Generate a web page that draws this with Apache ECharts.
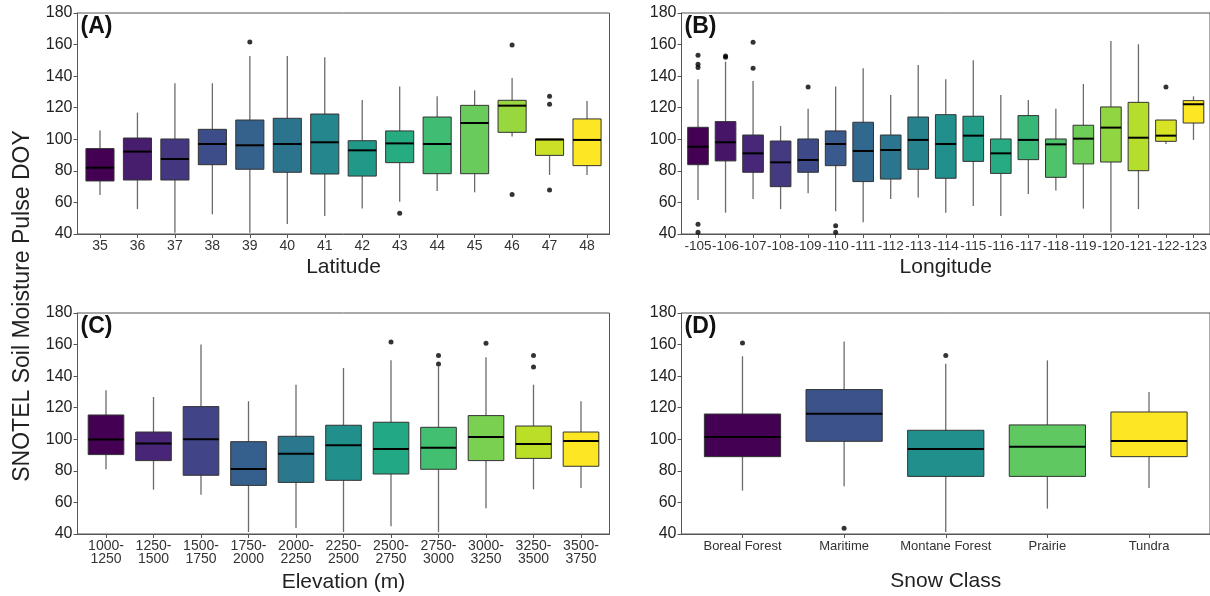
<!doctype html>
<html>
<head>
<meta charset="utf-8">
<script src="https://cdn.jsdelivr.net/npm/echarts@6/dist/echarts.min.js"></script>
<style>
  html, body { margin: 0; padding: 0; background: #fff; }
  #main { width: 1210px; height: 596px; }
</style>
</head>
<body>
<div id="main"></div>
<script>
// box values per category: [lower whisker, q1, median, q3, upper whisker]
var latCats = ['35','36','37','38','39','40','41','42','43','44','45','46','47','48'];
var latBox = [
  [64.7, 73.6, 82.0, 94.1, 105.5],
  [55.8, 74.2, 92.2, 100.8, 116.9],
  [40.8, 74.2, 87.5, 100.2, 135.5],
  [52.5, 83.9, 97.0, 106.3, 135.5],
  [40.8, 81.0, 96.2, 112.2, 152.8],
  [46.3, 79.1, 97.0, 113.3, 152.8],
  [51.4, 78.0, 98.1, 116.0, 151.9],
  [56.1, 76.7, 93.0, 99.1, 124.9],
  [60.5, 85.2, 97.4, 105.3, 133.4],
  [67.2, 78.2, 97.0, 114.1, 127.2],
  [66.4, 78.2, 110.3, 121.5, 131.0],
  [101.7, 104.4, 121.3, 124.7, 138.8],
  [77.4, 89.8, 99.8, 100.2, 100.2],
  [77.4, 83.3, 99.6, 112.9, 124.3]
];
var latOut = [[4,161.7],[8,53.1],[11,159.8],[11,65.1],[12,127.2],[12,122.2],[12,67.9]];

var lonCats = ['-105','-106','-107','-108','-109','-110','-111','-112','-113','-114',
               '-115','-116','-117','-118','-119','-120','-121','-122','-123'];
var lonBox = [
  [61.5, 83.9, 95.3, 107.6, 138.0],
  [53.5, 86.3, 98.1, 111.2, 149.2],
  [62.2, 79.1, 91.1, 102.7, 136.9],
  [55.8, 70.0, 85.4, 98.9, 108.4],
  [65.8, 79.1, 86.9, 100.2, 119.4],
  [54.4, 83.3, 97.0, 105.3, 133.4],
  [47.4, 73.2, 92.6, 110.8, 145.0],
  [62.2, 74.8, 93.2, 102.7, 128.1],
  [63.2, 81.0, 99.6, 114.1, 147.1],
  [53.5, 75.3, 97.0, 115.6, 138.0],
  [57.7, 86.0, 102.3, 114.6, 150.0],
  [51.4, 78.4, 91.1, 100.2, 128.1],
  [65.3, 87.1, 99.6, 115.0, 124.9],
  [67.5, 75.9, 96.8, 100.2, 119.4],
  [56.1, 84.4, 100.4, 108.9, 135.0],
  [41.1, 85.6, 107.4, 120.5, 162.3],
  [55.8, 80.1, 101.0, 123.4, 160.2],
  [97.0, 98.7, 102.3, 112.2, 112.2],
  [99.6, 110.3, 122.2, 124.5, 127.2]
];
var lonOut = [[0,153.2],[0,147.5],[0,145.4],[0,46.1],[0,41.1],[1,152.8],[1,151.9],
              [2,161.4],[2,145.0],[4,133.1],[5,45.3],[5,41.1],[17,133.1]];

var elevCats = ['1000-\n1250','1250-\n1500','1500-\n1750','1750-\n2000','2000-\n2250','2250-\n2500',
                '2500-\n2750','2750-\n3000','3000-\n3250','3250-\n3500','3500-\n3750'];
var elevBox = [
  [81.0, 90.3, 99.8, 115.4, 131.0],
  [68.1, 86.5, 97.4, 104.6, 126.8],
  [64.9, 77.2, 100.0, 120.7, 160.0],
  [41.3, 70.8, 81.2, 98.5, 124.1],
  [43.8, 72.7, 90.9, 101.9, 134.6],
  [41.3, 74.0, 96.2, 108.9, 145.2],
  [44.9, 78.0, 93.9, 110.8, 150.0],
  [41.3, 81.0, 94.7, 107.6, 146.2],
  [56.3, 86.5, 101.5, 115.0, 151.9],
  [68.3, 87.9, 97.0, 108.4, 134.6],
  [69.1, 82.9, 98.9, 104.6, 124.1]
];
var elevOut = [[6,161.7],[7,153.0],[7,147.7],[8,160.8],[9,153.0],[9,145.8]];

var snowCats = ['Boreal Forest','Maritime','Montane Forest','Prairie','Tundra'];
var snowBox = [
  [67.5, 89.0, 101.5, 116.0, 152.6],
  [70.2, 98.7, 116.2, 131.5, 161.9],
  [41.3, 76.5, 93.9, 105.7, 147.9],
  [56.1, 76.5, 95.3, 109.1, 150.0],
  [69.1, 89.0, 98.9, 117.3, 130.0]
];
var snowOut = [[0,161.0],[1,43.6],[2,153.0]];

// viridis palette stops
var viridisStops = ['#440154','#482576','#414487','#35608D','#2A788E','#21908C',
                    '#22A884','#43BF71','#7AD151','#BBDF27','#FDE725'];
function hex2rgb(h) { return [parseInt(h.substr(1,2),16), parseInt(h.substr(3,2),16), parseInt(h.substr(5,2),16)]; }
function viridis(n) {
  var out = [];
  for (var i = 0; i < n; i++) {
    var t = n === 1 ? 0 : i / (n - 1) * (viridisStops.length - 1);
    var k = Math.min(Math.floor(t), viridisStops.length - 2), f = t - k;
    var a = hex2rgb(viridisStops[k]), b = hex2rgb(viridisStops[k + 1]);
    out.push('rgb(' + a.map(function (c, j) { return Math.round(c + (b[j] - c) * f); }).join(',') + ')');
  }
  return out;
}

var FONT = '"Liberation Sans", Arial, sans-serif';

var panels = [
  { cats: latCats,  box: latBox,  out: latOut,  name: 'Latitude',      left: 77.5, top: 13,  gap: 23, fs: 14 },
  { cats: lonCats,  box: lonBox,  out: lonOut,  name: 'Longitude',     left: 681.5, top: 13, gap: 23, fs: 13.5 },
  { cats: elevCats, box: elevBox, out: elevOut, name: 'Elevation (m)', left: 77.5, top: 313, gap: 38, fs: 14 },
  { cats: snowCats, box: snowBox, out: snowOut, name: 'Snow Class',    left: 681.5, top: 313, gap: 37, fs: 13 }
];

function renderBox(colors) {
  return function (params, api) {
    var x = api.value(0);
    var lo = api.coord([x, api.value(1)]);
    var q1 = api.coord([x, api.value(2)]);
    var md = api.coord([x, api.value(3)]);
    var q3 = api.coord([x, api.value(4)]);
    var hi = api.coord([x, api.value(5)]);
    var w = api.size([1, 0])[0] * 0.75;
    return {
      type: 'group',
      children: [
        { type: 'line', shape: { x1: lo[0], y1: lo[1], x2: hi[0], y2: hi[1] },
          style: { stroke: '#6b6b6b', lineWidth: 1.3 } },
        { type: 'rect', shape: { x: q3[0] - w / 2, y: q3[1], width: w, height: q1[1] - q3[1] },
          style: { fill: colors[params.dataIndex], stroke: '#333', lineWidth: 1 } },
        { type: 'line', shape: { x1: md[0] - w / 2, y1: md[1], x2: md[0] + w / 2, y2: md[1] },
          style: { stroke: '#000', lineWidth: 2 } }
      ]
    };
  };
}

var grids = [], xAxes = [], yAxes = [], series = [];
panels.forEach(function (p, k) {
  var n = p.cats.length;
  var idx = p.cats.map(function (c, i) { return i; });
  grids.push({ left: p.left, top: p.top, width: 532, height: 221,
               show: true, borderColor: '#555', borderWidth: 1 });
  xAxes.push({
    type: 'value', gridIndex: k, min: -0.6, max: n - 0.4,
    splitLine: { show: false },
    axisLine: { show: true, onZero: false, lineStyle: { color: '#555', width: 1 } },
    axisTick: { show: true, customValues: idx, length: 4, lineStyle: { color: '#555' } },
    axisLabel: { customValues: idx, color: '#333', fontSize: p.fs, fontFamily: FONT, margin: 6,
                 lineHeight: 13,
                 formatter: function (v) { return p.cats[Math.round(v)]; } },
    name: p.name, nameLocation: 'middle', nameGap: p.gap,
    nameTextStyle: { fontSize: 21, color: '#222', fontFamily: FONT }
  });
  yAxes.push({
    type: 'value', gridIndex: k, min: 40, max: 180, interval: 20,
    splitLine: { show: false },
    axisLine: { show: true, onZero: false, lineStyle: { color: '#555', width: 1 } },
    axisTick: { show: true, length: 4, lineStyle: { color: '#555' } },
    axisLabel: { color: '#222', fontSize: 16, fontFamily: FONT, margin: 5 }
  });
  var colors = viridis(n);
  series.push({
    type: 'custom', xAxisIndex: k, yAxisIndex: k, clip: true, silent: true,
    renderItem: renderBox(colors),
    data: p.box.map(function (b, i) { return [i].concat(b); })
  });
  series.push({
    type: 'scatter', xAxisIndex: k, yAxisIndex: k, silent: true,
    symbolSize: 5, itemStyle: { color: '#000' },
    data: p.out
  });
});

var labels = ['(A)', '(B)', '(C)', '(D)'];
var graphics = panels.map(function (p, k) {
  return { type: 'text', left: p.left + 3, top: p.top + 2,
           style: { text: labels[k], font: 'bold 23px ' + FONT, fill: '#111' } };
});
graphics.push({
  type: 'text', x: 23, y: 306, rotation: Math.PI / 2,
  style: { text: 'SNOTEL Soil Moisture Pulse DOY', font: '23px ' + FONT, fill: '#222',
           textAlign: 'center', textVerticalAlign: 'middle' }
});

var chart = echarts.init(document.getElementById('main'));
chart.setOption({
  animation: false,
  backgroundColor: '#fff',
  grid: grids,
  xAxis: xAxes,
  yAxis: yAxes,
  series: series,
  graphic: graphics
});
</script>
</body>
</html>
